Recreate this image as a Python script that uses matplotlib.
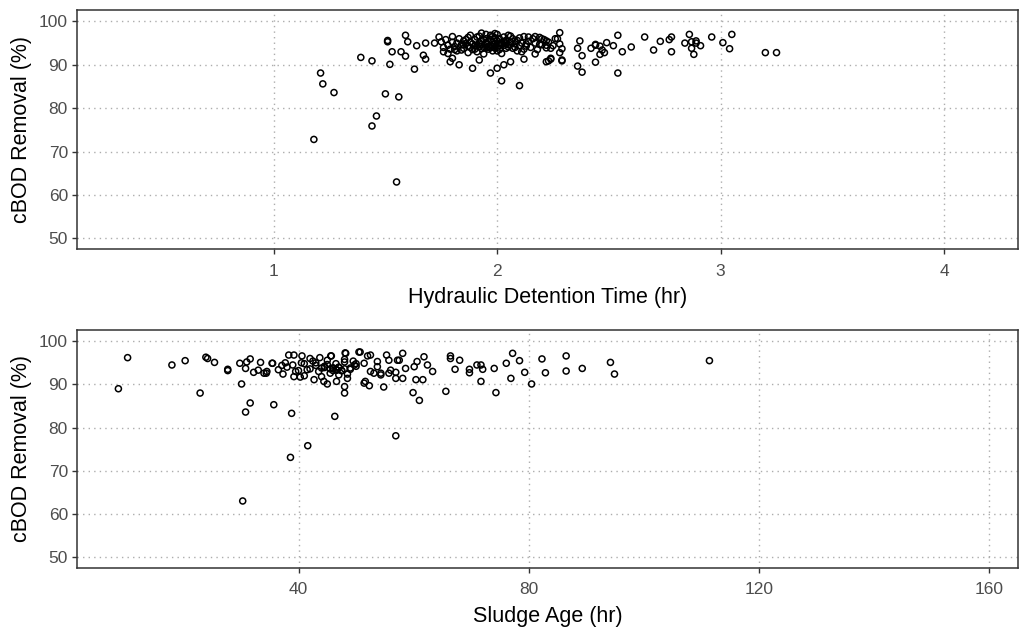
import matplotlib
matplotlib.use("Agg")
import matplotlib.pyplot as plt

plt.rcParams['font.family'] = ['Liberation Sans', 'DejaVu Sans']

# ---- Top panel: Hydraulic Detention Time (hr) vs cBOD Removal (%) ----
hdt = [1.18, 1.55, 1.21, 1.22, 1.27, 1.39, 1.44, 1.46, 1.44, 1.50, 1.56, 1.51, 1.51, 1.59,
       1.60, 1.53, 1.52, 1.57, 1.59, 1.64, 1.63, 1.68, 1.67, 1.68,
       1.76, 1.79, 1.83, 1.89, 1.97, 2.02, 2.10, 2.00, 2.03, 2.06, 2.12, 1.92, 1.80,
       2.23, 2.24, 2.29, 2.29,
       1.72, 1.74, 1.75, 1.76, 1.77, 1.78, 1.79, 1.80, 1.80, 1.81, 1.82, 1.82, 1.83, 1.84,
       1.85, 1.85, 1.86, 1.87, 1.87, 1.88, 1.88, 1.89, 1.90, 1.90, 1.91, 1.91, 1.92, 1.92,
       1.93, 1.93, 1.94, 1.94, 1.95, 1.95, 1.96, 1.96, 1.97, 1.97, 1.98, 1.98, 1.99, 1.99,
       2.00, 2.00, 2.00, 2.01, 2.01, 2.02, 2.02, 2.03, 2.03, 2.04, 2.04, 2.05, 2.05, 2.06,
       2.07, 2.07, 2.08, 2.09, 2.09, 2.10, 2.10, 2.11, 2.12, 2.12, 2.13, 2.14, 2.15, 2.16,
       2.17, 2.18, 2.19, 2.20, 2.21, 2.22, 2.23, 2.25, 2.26, 2.28,
       1.98, 1.95, 2.01, 1.86, 1.90, 1.94, 1.97, 2.04, 2.08, 1.84, 1.88, 1.92, 1.96, 2.00,
       2.06, 2.11, 2.14, 1.99, 2.03, 1.93, 1.81, 1.78, 2.17, 2.20,
       1.89, 1.91, 1.95, 1.98, 2.02, 2.05, 1.87, 1.93, 1.97, 2.01, 2.04, 2.08, 1.85, 1.99,
       2.28, 2.27, 2.19, 2.22, 2.22, 2.24, 2.28, 2.17, 2.13, 2.22, 2.24, 2.29,
       2.36, 2.37, 2.38, 2.36, 2.38, 2.42, 2.44, 2.44, 2.46, 2.47, 2.46, 2.48, 2.44, 2.49,
       2.52, 2.54, 2.56, 2.54, 2.60, 2.66, 2.70, 2.73, 2.77, 2.78, 2.78, 2.84, 2.86, 2.87,
       2.89, 2.89, 2.87, 2.91, 2.88, 2.96, 3.01, 3.05, 3.04, 3.20, 3.25]
cbod_hdt = [72.8, 63.0, 88.1, 85.6, 83.6, 91.7, 90.9, 78.2, 75.9, 83.3, 82.6, 95.3, 95.6, 96.8,
            95.3, 93.0, 90.1, 93.0, 92.0, 94.4, 89.0, 95.0, 92.2, 91.3,
            93.0, 90.7, 90.0, 89.2, 88.1, 86.3, 85.2, 89.2, 90.0, 90.7, 91.3, 91.1, 91.5,
            90.9, 91.5, 91.1, 93.7,
            95.0, 96.4, 95.3, 94.0, 95.8, 94.5, 93.6, 95.2, 96.5, 94.2, 95.0, 93.2, 96.0, 94.6,
            95.5, 93.8, 94.9, 96.3, 92.8, 95.2, 94.0, 93.5, 95.8, 94.4, 96.4, 93.0, 95.0, 94.2,
            97.3, 95.6, 94.0, 92.5, 96.0, 94.8, 95.4, 93.6, 96.8, 94.5, 95.2, 93.2, 96.2, 94.8,
            97.0, 95.5, 94.0, 96.0, 93.5, 95.0, 92.6, 96.4, 94.5, 95.6, 93.8, 96.8, 94.6, 95.2,
            93.8, 96.0, 94.8, 95.6, 93.2, 96.2, 94.4, 95.0, 93.6, 96.5, 94.8, 95.4, 94.0, 96.0,
            95.0, 93.5, 96.3, 94.6, 95.8, 93.9, 95.2, 94.4, 96.0, 94.8,
            96.6, 97.0, 95.0, 95.8, 93.6, 95.8, 95.8, 94.8, 95.5, 93.4, 96.8, 96.6, 94.2, 93.2,
            96.6, 93.0, 96.4, 97.2, 95.4, 94.7, 93.5, 92.6, 96.5, 96.0,
            94.8, 94.4, 93.9, 94.3, 94.7, 94.1, 94.3, 93.7, 93.9, 94.4, 95.1, 94.0, 94.6, 93.9,
            97.4, 96.0, 94.7, 95.5, 94.5, 93.8, 92.8, 92.5, 94.3, 90.7, 91.3, 90.9,
            93.8, 95.5, 92.1, 89.7, 88.3, 93.8, 94.7, 94.5, 94.3, 93.4, 92.4, 92.8, 90.6, 95.1,
            94.4, 96.8, 93.0, 88.1, 94.1, 96.4, 93.4, 95.4, 95.8, 96.4, 93.0, 95.0, 97.0, 95.3,
            95.5, 95.0, 93.8, 94.4, 92.4, 96.4, 95.1, 97.0, 93.7, 92.8, 92.8]

# ---- Bottom panel: Sludge Age (hr) vs cBOD Removal (%) ----
sludge_age = [10.3, 8.7, 18.0, 20.3, 23.9, 24.2, 25.4, 22.9, 27.7, 27.7, 29.8, 30.8, 31.6, 31.0,
              33.4, 32.2, 33.0, 34.0, 34.5, 35.5, 30.1, 31.6, 30.8, 35.7, 38.8, 41.6, 38.6, 46.3,
              37.3, 37.1, 37.7, 38.3, 39.2, 40.6, 30.3, 43.7, 45.7, 48.2, 50.5, 52.0,
              42.7, 44.4, 45.0, 46.6, 48.5, 48.0, 48.0, 51.6, 52.3, 40.3, 39.2, 35.4, 34.4,
              56.9, 59.9, 61.0, 60.4, 61.6, 65.6, 66.4, 66.4, 68.0, 67.2, 69.7, 69.7, 71.0, 71.7,
              72.0, 71.7, 74.0, 74.3, 76.1, 77.2, 76.9, 78.4, 79.3, 80.5, 82.3, 82.9, 86.5, 86.5,
              89.3, 94.2, 94.9, 111.4,
              45.6, 48.1, 50.7, 52.5, 55.3, 58.1, 61.8, 51.4, 54.8, 56.9, 58.1, 56.9, 63.3, 62.4,
              60.1, 58.6, 56.0, 54.3, 52.5, 51.4, 49.7, 46.7, 53.7, 55.7, 57.2, 60.6, 53.1, 57.5,
              53.7, 55.7, 54.3,
              39.0, 40.0, 41.0, 42.0, 43.0, 44.0, 45.0, 46.0, 47.0, 48.0, 49.0, 50.0,
              39.5, 40.5, 41.5, 42.5, 43.5, 44.5, 45.5, 46.5, 47.5, 48.5, 49.5,
              41.0, 43.0, 45.0, 47.0, 49.0, 42.0, 44.0, 46.0, 48.0, 50.0, 36.5, 38.0,
              46.0, 46.5, 47.0, 47.5, 48.0, 44.5, 45.5]
cbod_sa = [96.2, 89.0, 94.5, 95.5, 96.3, 96.0, 95.1, 88.0, 93.5, 93.2, 94.9, 93.7, 95.9, 95.2,
           95.1, 92.8, 93.3, 92.6, 93.0, 94.9, 90.1, 85.7, 83.6, 85.3, 83.3, 75.8, 73.1, 82.6,
           92.4, 94.4, 95.0, 96.8, 96.8, 96.6, 63.0, 96.2, 96.6, 97.2, 97.5, 96.6,
           91.1, 90.7, 90.1, 90.7, 91.4, 89.5, 88.0, 90.7, 89.7, 91.7, 91.8, 94.9, 92.6,
           78.1, 88.1, 86.3, 91.1, 91.1, 88.4, 96.6, 96.0, 95.6, 93.5, 93.5, 92.7, 94.5, 94.5,
           93.5, 90.7, 93.7, 88.1, 94.9, 97.2, 91.4, 95.5, 92.8, 90.1, 95.9, 92.7, 96.6, 93.1,
           93.7, 95.1, 92.4, 95.5,
           96.6, 97.3, 97.5, 96.8, 96.8, 97.2, 96.4, 90.3, 89.4, 91.4, 91.4, 92.8, 93.0, 94.5,
           94.1, 93.7, 93.3, 92.2, 93.0, 94.9, 94.5, 93.3, 95.3, 95.6, 95.6, 95.3, 92.6, 95.6,
           94.1, 92.6, 92.6,
           94.5, 93.2, 94.8, 93.6, 95.0, 93.8, 94.6, 93.2, 94.0, 95.2, 93.5, 94.2,
           93.0, 95.0, 93.4, 95.4, 93.0, 94.2, 92.6, 94.8, 93.2, 92.4, 95.4,
           92.0, 94.4, 95.6, 92.2, 93.8, 96.0, 91.8, 93.8, 95.8, 94.8, 93.4, 94.0,
           93.8, 93.5, 93.9, 93.2, 93.6, 93.9, 93.6]

ylabel = "cBOD Removal (%)"
yticks = [50, 60, 70, 80, 90, 100]
hdt_ticks = [1, 2, 3, 4]
sa_ticks = [40, 80, 120, 160]

fig = plt.figure(figsize=(10.22, 6.31), dpi=100)
ax1 = fig.add_axes([0.0753, 0.605, 0.9207, 0.379])
ax2 = fig.add_axes([0.0753, 0.100, 0.9207, 0.377])

tick_color = '#4D4D4D'

def style(ax, xticks, xlim, xlabel):
    ax.set_xlim(*xlim)
    ax.set_ylim(47.5, 102.6)
    ax.set_xticks(xticks)
    ax.set_yticks(yticks)
    ax.grid(True, color='#ADADAD', linestyle=(0, (1, 3)), linewidth=1.0)
    ax.set_axisbelow(True)
    for s in ax.spines.values():
        s.set_color('#333333')
        s.set_linewidth(1.1)
    ax.tick_params(axis='both', colors='#333333', labelcolor=tick_color,
                   labelsize=12.5, length=3.5, width=1.0, pad=3)
    ax.tick_params(axis='x', pad=7)
    ax.set_xlabel(xlabel, fontsize=15.5, labelpad=6)
    ax.set_ylabel(ylabel, fontsize=15.5, labelpad=5)

ax1.scatter(hdt, cbod_hdt, s=19, facecolors='none', edgecolors='black', linewidths=1.1, zorder=3)
style(ax1, hdt_ticks, (0.12, 4.33), "Hydraulic Detention Time (hr)")

ax2.scatter(sludge_age, cbod_sa, s=19, facecolors='none', edgecolors='black', linewidths=1.1, zorder=3)
style(ax2, sa_ticks, (1.5, 165.0), "Sludge Age (hr)")

fig.savefig("out.png", dpi=100)
